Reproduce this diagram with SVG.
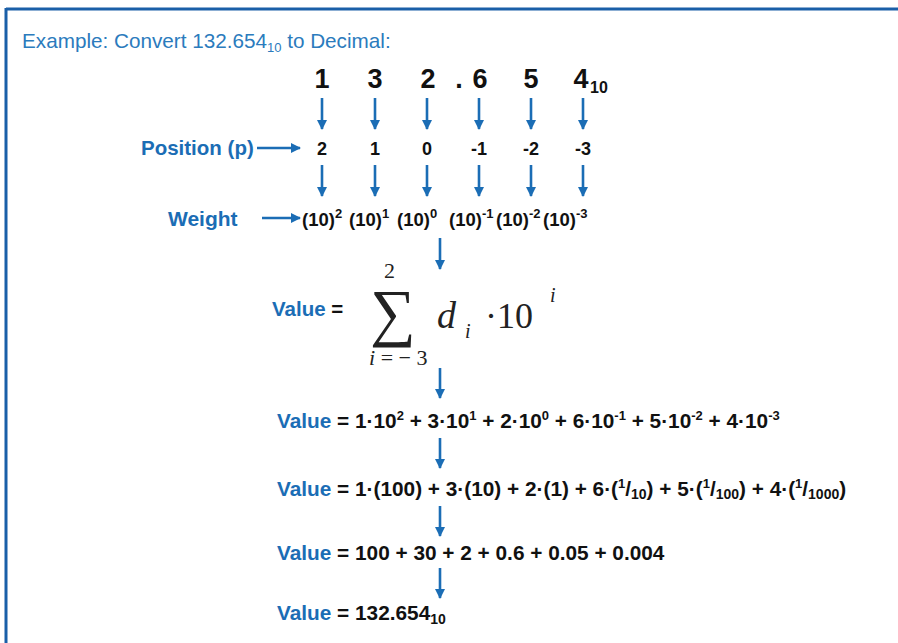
<svg xmlns="http://www.w3.org/2000/svg" width="898" height="643" viewBox="0 0 898 643">
<defs>
<marker id="ah" markerWidth="10" markerHeight="10" refX="9" refY="5" orient="auto" markerUnits="userSpaceOnUse">
<path d="M0,0 L10,5 L0,10 Z" fill="#1b6db5"/>
</marker>
<style>
.t{font-family:"Liberation Sans",Arial,sans-serif;}
.b{font-weight:bold;fill:#111;}
.bl{fill:#1b6db5;font-weight:bold;}
.title{fill:#2b7bbd;font-size:20.7px;}
.dg{font-size:27px;text-anchor:middle;}
.pn{font-size:18px;text-anchor:middle;}
.w{font-size:18.5px;}
.eq{font-size:20.8px;}
.m{font-family:"Liberation Serif","Times New Roman",serif;fill:#222;}
.c line{stroke:#1b6db5;stroke-width:2.6;marker-end:url(#ah);}
</style>
</defs>
<rect width="898" height="643" fill="#fff"/>
<g id="frame">
<line x1="6" y1="9" x2="898" y2="9" stroke="#1a5fa8" stroke-width="3"/>
<line x1="6" y1="8" x2="6" y2="643" stroke="#1a5fa8" stroke-width="3"/>
</g>
<g id="title"><text class="t title" x="22" y="48">Example: Convert 132.654<tspan font-size="13" dy="4">10</tspan><tspan dy="-4"> to Decimal:</tspan></text></g>
<g id="digits">
<text class="t b dg" x="322" y="88">1</text>
<text class="t b dg" x="375" y="88">3</text>
<text class="t b dg" x="428" y="88">2</text>
<text class="t b dg" x="459" y="88">.</text>
<text class="t b dg" x="480" y="88">6</text>
<text class="t b dg" x="531" y="88">5</text>
<text class="t b dg" x="581" y="88">4</text>
<text class="t b" x="590" y="93" font-size="16">10</text>
</g>
<g id="position">
<text class="t bl" x="141" y="155" font-size="20.5">Position (p)</text>
<text class="t b pn" x="322" y="155">2</text>
<text class="t b pn" x="375" y="155">1</text>
<text class="t b pn" x="427" y="155">0</text>
<text class="t b pn" x="479" y="155">-1</text>
<text class="t b pn" x="531" y="155">-2</text>
<text class="t b pn" x="583" y="155">-3</text>
</g>
<g id="weight">
<text class="t bl" x="168" y="226" font-size="21">Weight</text>
<text class="t b w" x="302" y="226">(10)<tspan font-size="13" dy="-8">2</tspan></text>
<text class="t b w" x="349" y="226">(10)<tspan font-size="13" dy="-8">1</tspan></text>
<text class="t b w" x="397" y="226">(10)<tspan font-size="13" dy="-8">0</tspan></text>
<text class="t b w" x="449" y="226">(10)<tspan font-size="13" dy="-8">-1</tspan></text>
<text class="t b w" x="496" y="226">(10)<tspan font-size="13" dy="-8">-2</tspan></text>
<text class="t b w" x="543" y="226">(10)<tspan font-size="13" dy="-8">-3</tspan></text>
</g>
<g id="formula">
<text class="t bl" x="272" y="316" font-size="20.5">Value <tspan fill="#111">=</tspan></text>
<text class="m" x="370" y="334" font-size="64">∑</text>
<text class="m" x="384" y="278" font-size="22">2</text>
<text class="m" x="369" y="365" font-size="22"><tspan font-style="italic">i</tspan> = − 3</text>
<text class="m" x="437" y="328" font-size="38" font-style="italic">d</text>
<text class="m" x="465" y="338" font-size="20" font-style="italic">i</text>
<text class="m" x="485" y="328" font-size="36">·10</text>
<text class="m" x="550" y="302" font-size="20" font-style="italic">i</text>
</g>
<g id="line1"><text class="t b eq" x="277" y="428"><tspan class="bl">Value</tspan> = 1·10<tspan font-size="13" dy="-8">2</tspan><tspan dy="8"> + 3·10</tspan><tspan font-size="13" dy="-8">1</tspan><tspan dy="8"> + 2·10</tspan><tspan font-size="13" dy="-8">0</tspan><tspan dy="8"> + 6·10</tspan><tspan font-size="13" dy="-8">-1</tspan><tspan dy="8"> + 5·10</tspan><tspan font-size="13" dy="-8">-2</tspan><tspan dy="8"> + 4·10</tspan><tspan font-size="13" dy="-8">-3</tspan></text></g>
<g id="line2"><text class="t b eq" x="277" y="496"><tspan class="bl">Value</tspan> = 1·(100) + 3·(10) + 2·(1) + 6·(<tspan font-size="13" dy="-8">1</tspan><tspan dy="8">/</tspan><tspan font-size="14" dy="3">10</tspan><tspan dy="-3">) + 5·(</tspan><tspan font-size="13" dy="-8">1</tspan><tspan dy="8">/</tspan><tspan font-size="14" dy="3">100</tspan><tspan dy="-3">) + 4·(</tspan><tspan font-size="13" dy="-8">1</tspan><tspan dy="8">/</tspan><tspan font-size="14" dy="3">1000</tspan><tspan dy="-3">)</tspan></text></g>
<g id="line3"><text class="t b eq" x="277" y="560"><tspan class="bl">Value</tspan> = 100 + 30 + 2 + 0.6 + 0.05 + 0.004</text></g>
<g id="line4"><text class="t b eq" x="277" y="620"><tspan class="bl">Value</tspan> = 132.654<tspan font-size="14" dy="4">10</tspan></text></g>
<g id="connectors" class="c">
<line x1="322" y1="98" x2="322" y2="129"/>
<line x1="375" y1="98" x2="375" y2="129"/>
<line x1="427" y1="98" x2="427" y2="129"/>
<line x1="479" y1="98" x2="479" y2="129"/>
<line x1="531" y1="98" x2="531" y2="129"/>
<line x1="583" y1="98" x2="583" y2="129"/>
<line x1="322" y1="165" x2="322" y2="196"/>
<line x1="375" y1="165" x2="375" y2="196"/>
<line x1="427" y1="165" x2="427" y2="196"/>
<line x1="479" y1="165" x2="479" y2="196"/>
<line x1="531" y1="165" x2="531" y2="196"/>
<line x1="583" y1="165" x2="583" y2="196"/>
<line x1="257" y1="148" x2="300" y2="148"/>
<line x1="262" y1="218" x2="300" y2="218"/>
<line x1="440" y1="238" x2="440" y2="269"/>
<line x1="440" y1="368" x2="440" y2="398"/>
<line x1="440" y1="438" x2="440" y2="468"/>
<line x1="440" y1="506" x2="440" y2="536"/>
<line x1="440" y1="568" x2="440" y2="598"/>
</g>
</svg>
